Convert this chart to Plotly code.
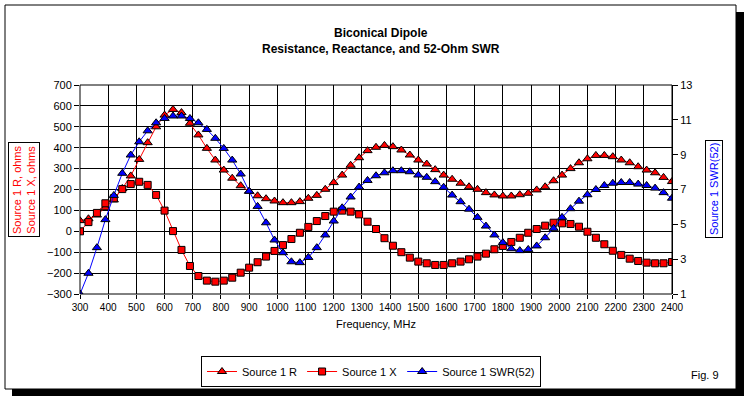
import plotly.graph_objects as go

# ---- data ----
freq = [300 + 30 * i for i in range(71)]  # MHz, 30 MHz steps

source_r = [51, 60, 78, 112, 150, 205, 265, 344, 424, 500, 556, 583, 568, 517, 461,
            397, 341, 293, 254, 218, 192, 170, 156, 145, 137, 137, 142, 158, 172, 201,
            233, 269, 316, 352, 386, 402, 411, 405, 389, 365, 341, 322, 295, 269, 249,
            230, 213, 201, 185, 174, 169, 169, 175, 182, 198, 213, 242, 269, 300, 328,
            347, 363, 363, 357, 341, 328, 309, 293, 280, 258, 238]

source_x = [0, 44, 88, 134, 158, 202, 226, 237, 222, 174, 99, 1, -89, -166, -214,
            -236, -241, -236, -222, -198, -174, -148, -121, -94, -66, -37, -7, 21, 49, 73,
            94, 99, 94, 81, 46, 11, -33, -69, -100, -126, -145, -153, -161, -161, -153,
            -145, -134, -121, -107, -86, -70, -51, -31, -7, 11, 27, 41, 38, 35, 22,
            -2, -31, -62, -93, -113, -131, -142, -150, -153, -153, -147]

swr52 = [1.0, 2.19, 3.66, 5.27, 6.66, 7.93, 8.98, 9.74, 10.37, 10.83, 11.08, 11.22, 11.22, 11.08, 10.83,
         10.45, 9.94, 9.36, 8.69, 7.89, 6.9, 6.03, 5.09, 4.1, 3.37, 2.85, 2.8, 3.1, 3.66, 4.39,
         5.19, 5.95, 6.57, 7.14, 7.52, 7.79, 7.96, 8.08, 8.08, 8.02, 7.83, 7.7, 7.45, 7.13, 6.68,
         6.3, 5.87, 5.4, 4.9, 4.39, 3.95, 3.6, 3.49, 3.56, 3.76, 4.23, 4.77, 5.4, 5.9, 6.33,
         6.7, 7.0, 7.23, 7.36, 7.4, 7.4, 7.31, 7.23, 7.08, 6.82, 6.5]

x_ticks = list(range(300, 2401, 100))
left_ticks = list(range(-300, 701, 100))
right_ticks = list(range(1, 14, 2))

# ---- layout geometry (pixels) ----
W, H = 744, 396
L, R, T, B = 80, 672, 85, 294


def px(xp):
    return (xp - L) / (R - L)


def py(yp):
    return (B - yp) / (B - T)


FONT = "Liberation Sans, Arial, sans-serif"

fig = go.Figure()
fig.add_trace(go.Scatter(
    x=freq, y=source_r, name="Source 1 R", mode="lines+markers",
    line=dict(color="#ff0000", width=1),
    marker=dict(symbol="triangle-up", size=8, color="#ff0000",
                line=dict(color="black", width=1)),
))
fig.add_trace(go.Scatter(
    x=freq, y=source_x, name="Source 1 X", mode="lines+markers",
    line=dict(color="#ff0000", width=1),
    marker=dict(symbol="square", size=7, color="#ff0000",
                line=dict(color="black", width=1)),
))
fig.add_trace(go.Scatter(
    x=freq, y=swr52, name="Source 1 SWR(52)", mode="lines+markers", yaxis="y2",
    line=dict(color="#0000ff", width=1),
    marker=dict(symbol="triangle-up", size=8, color="#0000ff",
                line=dict(color="black", width=1)),
))

shapes = [
    # chart border
    dict(type="rect", xref="paper", yref="paper",
         x0=px(5), x1=px(736), y0=py(389), y1=py(5),
         line=dict(color="black", width=1), fillcolor="rgba(0,0,0,0)", layer="below"),
    # shadow right
    dict(type="rect", xref="paper", yref="paper",
         x0=px(736), x1=px(746), y0=py(398), y1=py(12),
         line=dict(width=0), fillcolor="black"),
    # shadow bottom
    dict(type="rect", xref="paper", yref="paper",
         x0=px(12), x1=px(746), y0=py(398), y1=py(389),
         line=dict(width=0), fillcolor="black"),
    # plot area frame
    dict(type="rect", xref="paper", yref="paper", x0=0, x1=1, y0=0, y1=1,
         line=dict(color="black", width=1), fillcolor="rgba(0,0,0,0)"),
]

annotations = [
    dict(text="Source 1 R, ohms<br>Source 1 X, ohms", xref="paper", yref="paper",
         x=px(24), y=py(190), xanchor="center", yanchor="middle",
         showarrow=False, textangle=-90,
         font=dict(family=FONT, size=11, color="#ff0000"),
         bordercolor="black", borderwidth=1, borderpad=2, bgcolor="white"),
    dict(text="Source 1 SWR(52)", xref="paper", yref="paper",
         x=px(714), y=py(189), xanchor="center", yanchor="middle",
         showarrow=False, textangle=-90,
         font=dict(family=FONT, size=11, color="#0000ff"),
         bordercolor="black", borderwidth=1, borderpad=2, bgcolor="white"),
    dict(text="Fig. 9", xref="paper", yref="paper", x=px(705), y=py(375),
         xanchor="center", yanchor="middle",
         showarrow=False, font=dict(family=FONT, size=11, color="black")),
    dict(text="<b>Biconical Dipole</b><br><b>Resistance, Reactance, and 52-Ohm SWR</b>",
         xref="paper", yref="paper", x=px(381), y=py(41), xanchor="center", yanchor="middle",
         showarrow=False, font=dict(family=FONT, size=12, color="black")),
]

fig.update_layout(
    width=W, height=H,
    margin=dict(l=L, r=W - R, t=T, b=H - B, autoexpand=False),
    paper_bgcolor="white", plot_bgcolor="white",
    font=dict(family=FONT, size=11, color="black"),
    showlegend=True,
    legend=dict(orientation="h", x=px(371), y=py(356), xanchor="center", yanchor="top",
                bordercolor="black", borderwidth=1, bgcolor="white",
                font=dict(family=FONT, size=11, color="black"),
                itemwidth=30, tracegroupgap=0),
    xaxis=dict(range=[300, 2400], tickvals=x_ticks, ticktext=[str(v) for v in x_ticks],
               showgrid=True, gridcolor="black", gridwidth=1, zeroline=False,
               ticks="outside", ticklen=4, tickcolor="black", showline=False,
               tickfont=dict(family=FONT, size=10),
               title=dict(text="Frequency, MHz", font=dict(family=FONT, size=11), standoff=8)),
    yaxis=dict(range=[-300, 700], tickvals=left_ticks,
               showgrid=True, gridcolor="black", gridwidth=1, zeroline=False,
               ticks="outside", ticklen=5, tickcolor="black", showline=False,
               tickfont=dict(family=FONT, size=11)),
    yaxis2=dict(range=[1, 13], tickvals=right_ticks, overlaying="y", side="right",
                showgrid=False, zeroline=False, ticks="outside", ticklen=5,
                tickcolor="black", showline=True, linecolor="black",
                tickfont=dict(family=FONT, size=11)),
    shapes=shapes,
    annotations=annotations,
)

fig.write_html("out.html", config={"displayModeBar": False},
               post_script="document.body.style.margin='0px';document.body.style.overflow='hidden';")
